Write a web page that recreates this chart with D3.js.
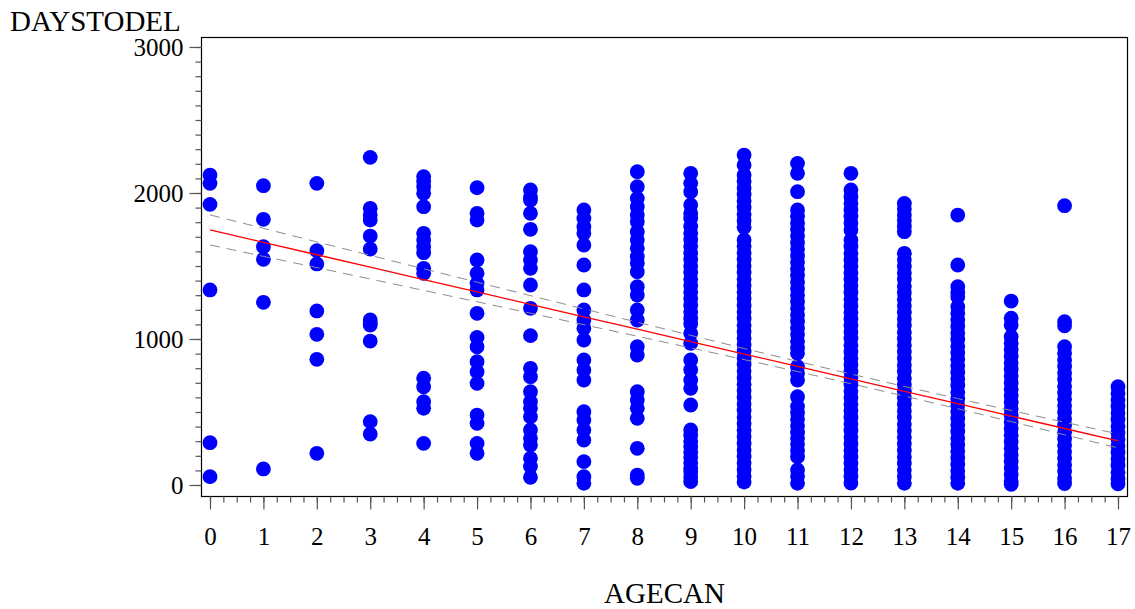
<!DOCTYPE html>
<html>
<head>
<meta charset="utf-8">
<script src="https://cdn.jsdelivr.net/npm/d3@7"></script>
<style>
  body { margin: 0; background: #fff; }
  text { font-family: "Liberation Serif", "Times New Roman", serif; }
</style>
</head>
<body>
<div id="chart"></div>
<script>
// DAYSTODEL values for each AGECAN column
const age0 = [2123, 2066, 1922, 1336, 290, 57];
const age1 = [2050, 1820, 1632, 1546, 1251, 110];
const age2 = [2066, 1605, 1514, 1192, 1032, 861, 217];
const age3 = [2244, 1895, 1849, 1815, 1705, 1616, 1130, 1110, 1096, 986, 434, 349];
const age4 = [2112, 2080, 2043, 1998, 1906, 1724, 1678, 1632, 1591, 1484, 1450, 731, 673, 571, 525, 285];
const age5 = [2036, 1861, 1815, 1541, 1450, 1381, 1336, 1176, 1011, 947, 845, 776, 696, 479, 422, 285, 217];
const age6 = [2021, 1970, 1952, 1861, 1751, 1598, 1541, 1484, 1370, 1210, 1023, 799, 742, 639, 571, 525, 468, 377, 320, 274, 183, 126, 53];
const age7 = [1884, 1826, 1769, 1724, 1644, 1507, 1336, 1199, 1130, 1073, 993, 856, 788, 719, 502, 445, 377, 308, 160, 57, 12];
const age8 = [2146, 2043, 1963, 1906, 1849, 1803, 1735, 1678, 1621, 1564, 1518, 1461, 1358, 1301, 1199, 1130, 947, 890, 639, 582, 525, 457, 251, 68, 46];
const age9 = [2135, 2066, 2009, 1918, 1861, 1826, 1770, 1725, 1680, 1635, 1590, 1545, 1500, 1455, 1410, 1365, 1320, 1275,
  1230, 1185, 1140, 1105, 1040, 970, 856, 790, 720, 662, 548, 377, 340, 300, 262, 225, 190, 150, 115, 90, 55, 23];
const age10 = [2260, 2192, 2123, 2080, 2035, 1990, 1945, 1900, 1855, 1810, 1765, 1678, 1635, 1590, 1545, 1500, 1455, 1410,
  1365, 1320, 1275, 1230, 1185, 1140, 1095, 1050, 1005, 960, 915, 870, 825, 780, 735, 690, 645, 600, 555, 510, 465, 420,
  375, 330, 285, 240, 195, 150, 105, 60, 20];
const age11 = [2203, 2135, 2009, 1884, 1840, 1795, 1750, 1705, 1660, 1615, 1570, 1525, 1480, 1435, 1390, 1345, 1300, 1255,
  1210, 1165, 1120, 1075, 1030, 985, 940, 902, 810, 765, 719, 605, 537, 495, 450, 405, 360, 320, 280, 235, 194, 103, 60, 12];
const age12 = [2135, 2021, 1975, 1930, 1885, 1840, 1795, 1747, 1678, 1633, 1588, 1543, 1498, 1453, 1408, 1363, 1318, 1273,
  1228, 1183, 1138, 1093, 1048, 1003, 958, 913, 868, 823, 778, 733, 688, 643, 598, 553, 508, 463, 418, 373, 328, 283, 238,
  193, 148, 103, 58, 13];
const age13 = [1929, 1890, 1850, 1810, 1770, 1735, 1587, 1542, 1497, 1452, 1407, 1362, 1317, 1272, 1227, 1182, 1137, 1092,
  1047, 1002, 957, 912, 867, 822, 777, 732, 687, 642, 597, 552, 507, 462, 417, 372, 327, 282, 237, 192, 147, 102, 57, 12];
const age14 = [1849, 1507, 1358, 1320, 1290, 1221, 1176, 1131, 1086, 1041, 996, 951, 906, 861, 816, 771, 726, 681, 636,
  591, 546, 501, 456, 411, 366, 321, 276, 231, 186, 141, 96, 51, 12];
const age15 = [1260, 1142, 1096, 1016, 971, 926, 881, 836, 791, 746, 701, 656, 611, 566, 521, 476, 431, 386, 341, 296,
  251, 206, 161, 116, 71, 26, 5];
const age16 = [1913, 1119, 1090, 947, 902, 857, 812, 767, 722, 677, 632, 587, 542, 497, 452, 407, 362, 317, 272, 227,
  182, 137, 92, 47, 10];
const age17 = [673, 628, 583, 538, 493, 448, 403, 358, 313, 268, 223, 178, 133, 88, 43, 8];

const columns = [age0, age1, age2, age3, age4, age5, age6, age7, age8, age9,
  age10, age11, age12, age13, age14, age15, age16, age17];

// regression fit and 95% confidence limits at each AGECAN
const ages = d3.range(0, 18);
const fitLine = [1747, 1662, 1577, 1492, 1407, 1322, 1237, 1152, 1067, 982, 897, 812, 727, 642, 557, 472, 387, 302];
const upperCL = [1850, 1758, 1665, 1573, 1481, 1389, 1297, 1206, 1115, 1025, 935, 847, 760, 675, 592, 510, 430, 350];
const lowerCL = [1644, 1566, 1489, 1411, 1333, 1255, 1177, 1098, 1019, 939, 859, 777, 694, 609, 522, 434, 344, 254];

const yMajor = [0, 1000, 2000, 3000];
const xMajor = d3.range(0, 18);

const width = 1135, height = 609;
const frame = {left: 201.5, top: 37.5, right: 1127.5, bottom: 496.5};

const svg = d3.select("#chart").append("svg")
    .attr("width", width).attr("height", height);

const x = d3.scaleLinear().domain([0, 17]).range([210, 1118]);
const y = d3.scaleLinear().domain([0, 3000]).range([485, 47]);

// points
const pts = [];
columns.forEach((vals, i) => vals.forEach(v => pts.push({age: i, days: v})));

svg.append("g").selectAll("circle")
    .data(pts)
    .join("circle")
    .attr("cx", d => x(d.age))
    .attr("cy", d => y(d.days))
    .attr("r", 7.4)
    .attr("fill", "#0000ff");

// confidence limits (dashed) and fit line
const lineGen = arr => d3.line().x((d, i) => x(ages[i])).y(d => y(d))(arr);

[upperCL, lowerCL].forEach(arr => {
    svg.append("path")
        .attr("d", lineGen(arr))
        .attr("fill", "none")
        .attr("stroke", "#8c8c8c")
        .attr("stroke-width", 1)
        .attr("stroke-dasharray", "10,7");
});

svg.append("path")
    .attr("d", lineGen(fitLine))
    .attr("fill", "none")
    .attr("stroke", "#ff0000")
    .attr("stroke-width", 1.3);

// frame
svg.append("rect")
    .attr("x", frame.left).attr("y", frame.top)
    .attr("width", frame.right - frame.left)
    .attr("height", frame.bottom - frame.top)
    .attr("fill", "none").attr("stroke", "#000").attr("stroke-width", 1.2);

// y axis: minor ticks every 100, major every 1000
const yMinor = svg.append("g")
    .attr("transform", `translate(${frame.left},0)`)
    .call(d3.axisLeft(y).tickValues(d3.range(0, 3001, 100)).tickSize(6).tickFormat(""));
const yAxis = svg.append("g")
    .attr("transform", `translate(${frame.left},0)`)
    .call(d3.axisLeft(y).tickValues(yMajor).tickSize(12).tickPadding(6).tickFormat(d3.format("d")));

// x axis: minor ticks every 0.25, major every 1
const xMinor = svg.append("g")
    .attr("transform", `translate(0,${frame.bottom})`)
    .call(d3.axisBottom(x).tickValues(d3.range(0, 17.01, 0.25)).tickSize(6).tickFormat(""));
const xAxis = svg.append("g")
    .attr("transform", `translate(0,${frame.bottom})`)
    .call(d3.axisBottom(x).tickValues(xMajor).tickSize(13).tickPadding(18).tickFormat(d3.format("d")));

[yMinor, yAxis, xMinor, xAxis].forEach(g => {
    g.select(".domain").remove();
    g.selectAll("line").attr("stroke", "#555").attr("stroke-width", 1.2);
    g.selectAll("text")
        .attr("fill", "#000")
        .style("font-family", '"Liberation Serif", "Times New Roman", serif')
        .style("font-size", "25px");
});

// axis labels
svg.append("text")
    .attr("x", 10).attr("y", 31)
    .style("font-size", "29px")
    .text("DAYSTODEL");

svg.append("text")
    .attr("x", (frame.left + frame.right) / 2).attr("y", 603)
    .attr("text-anchor", "middle")
    .style("font-size", "29px")
    .text("AGECAN");
</script>
</body>
</html>
